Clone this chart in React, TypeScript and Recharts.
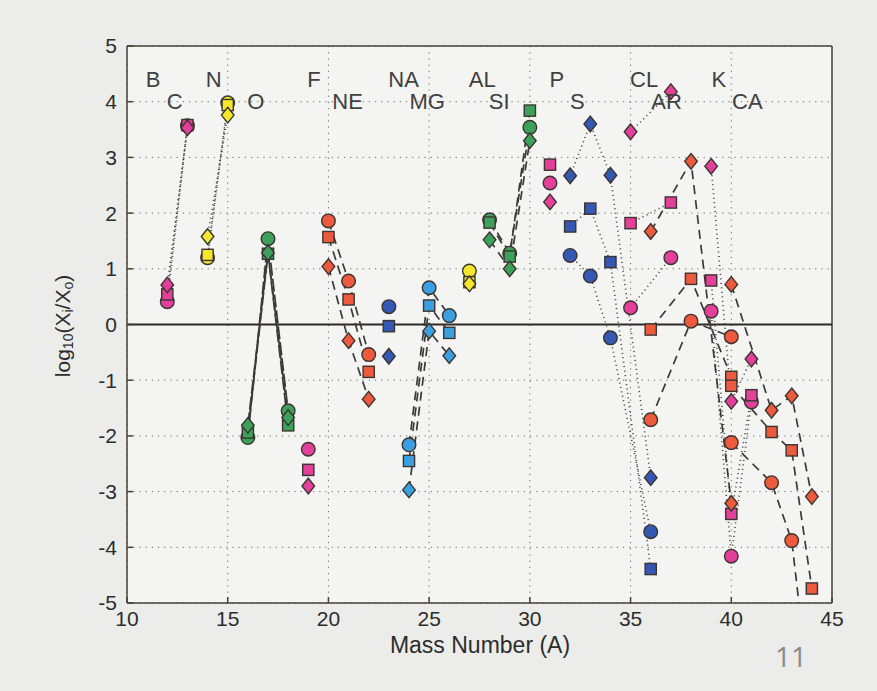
import React from 'react';
import { ScatterChart, Scatter, XAxis, YAxis, CartesianGrid, ReferenceLine } from 'recharts';

const X_TICKS = [10, 15, 20, 25, 30, 35, 40, 45];
const Y_TICKS = [-5, -4, -3, -2, -1, 0, 1, 2, 3, 4, 5];

// each row: [mass number A, circle, square, diamond]  (log10 Xi/Xo)
const C_ROWS = [[12, 0.41, 0.54, 0.71], [13, 3.57, 3.58, 3.53]];
const N_ROWS = [[14, 1.2, 1.25, 1.58], [15, 3.98, 3.94, 3.76]];
const O_ROWS = [[16, -2.03, -1.94, -1.81], [17, 1.54, 1.27, 1.29], [18, -1.55, -1.81, -1.67]];
const F_ROWS = [[19, -2.24, -2.61, -2.9]];
const NE_ROWS = [[20, 1.86, 1.57, 1.04], [21, 0.78, 0.45, -0.29], [22, -0.54, -0.85, -1.34]];
const NA_ROWS = [[23, 0.32, -0.03, -0.57]];
const MG_ROWS = [[24, -2.16, -2.45, -2.97], [25, 0.66, 0.34, -0.12], [26, 0.16, -0.15, -0.56]];
const AL_ROWS = [[27, 0.96, 0.76, 0.73]];
const SI_ROWS = [[28, 1.88, 1.83, 1.52], [29, 1.28, 1.22, 1.0], [30, 3.54, 3.84, 3.3]];
const P_ROWS = [[31, 2.54, 2.87, 2.2]];
const S_ROWS = [[32, 1.24, 1.76, 2.67], [33, 0.87, 2.08, 3.6], [34, -0.24, 1.12, 2.68], [36, -3.72, -4.39, -2.75]];
const CL_ROWS = [[35, 0.3, 1.82, 3.46], [37, 1.2, 2.19, 4.18]];
const AR_ROWS = [[36, -1.71, -0.09, 1.67], [38, 0.06, 0.82, 2.93], [40, -0.22, -0.94, -3.21]];
const K_ROWS = [[39, 0.24, 0.79, 2.84], [40, -4.16, -3.4, -1.38], [41, -1.39, -1.27, -0.62]];
const CA_ROWS = [[40, -2.12, -1.1, 0.72], [42, -2.84, -1.93, -1.54], [43, -3.88, -2.26, -1.28], [44, -7.0, -4.74, -3.09]];

// element labels: [text, A, y]
const ELEMENT_LABELS = [
  ['B', 11.3, 4.4], ['C', 12.37, 4.01], ['N', 14.3, 4.4], ['O', 16.4, 4.01],
  ['F', 19.28, 4.4], ['NE', 20.95, 4.01], ['NA', 23.73, 4.4], ['MG', 24.9, 4.01],
  ['AL', 27.64, 4.4], ['SI', 28.48, 4.01], ['P', 31.34, 4.4], ['S', 32.36, 4.01],
  ['CL', 35.67, 4.4], ['AR', 36.79, 4.01], ['K', 39.38, 4.4], ['CA', 40.8, 4.01],
];

const MAGENTA = '#e43f9a';
const YELLOW = '#f6e72c';
const GREEN = '#3da15a';
const RED = '#ee5a3e';
const DARK_BLUE = '#3458b4';
const LIGHT_BLUE = '#3aa0e2';
const EDGE = '#3a3530';
const INK = '#2c2c2c';
const FONT = "'Liberation Sans', Arial, sans-serif";

const LINE_STYLES: Record<string, any> = {
  dotted: { stroke: '#3a3a3a', strokeWidth: 1.6, strokeDasharray: '1 3.5' },
  dashed: { stroke: '#3a3a3a', strokeWidth: 1.7, strokeDasharray: '9 6' },
  long: { stroke: '#3a3a3a', strokeWidth: 1.7, strokeDasharray: '13 3' },
};

const SERIES = [
  { key: 'C', rows: C_ROWS, color: MAGENTA, line: 'dotted' },
  { key: 'N', rows: N_ROWS, color: YELLOW, line: 'dotted' },
  { key: 'O', rows: O_ROWS, color: GREEN, line: 'long' },
  { key: 'F', rows: F_ROWS, color: MAGENTA, line: null },
  { key: 'NE', rows: NE_ROWS, color: RED, line: 'dashed' },
  { key: 'NA', rows: NA_ROWS, color: DARK_BLUE, line: null },
  { key: 'MG', rows: MG_ROWS, color: LIGHT_BLUE, line: 'dashed' },
  { key: 'AL', rows: AL_ROWS, color: YELLOW, line: null },
  { key: 'SI', rows: SI_ROWS, color: GREEN, line: 'dashed' },
  { key: 'P', rows: P_ROWS, color: MAGENTA, line: null },
  { key: 'S', rows: S_ROWS, color: DARK_BLUE, line: 'dotted' },
  { key: 'CL', rows: CL_ROWS, color: MAGENTA, line: 'dotted' },
  { key: 'AR', rows: AR_ROWS, color: RED, line: 'dashed' },
  { key: 'K', rows: K_ROWS, color: MAGENTA, line: 'dotted' },
  { key: 'CA', rows: CA_ROWS, color: RED, line: 'dashed' },
];

const MARKERS = ['circle', 'square', 'diamond'];

const pointsOf = (rows: number[][], col: number) => rows.map((r) => ({ x: r[0], y: r[col] }));

const makeShape = (marker: string, color: string) => (props: any) => {
  const { cx, cy } = props;
  if (cx == null || cy == null) return <g />;
  if (marker === 'circle') {
    return <circle cx={cx} cy={cy} r={6.8} fill={color} stroke={EDGE} strokeWidth={1.4} />;
  }
  if (marker === 'square') {
    return <rect x={cx - 5.6} y={cy - 5.6} width={11.2} height={11.2} fill={color} stroke={EDGE} strokeWidth={1.4} />;
  }
  return (
    <polygon
      points={`${cx},${cy - 7.8} ${cx + 6.3},${cy} ${cx},${cy + 7.8} ${cx - 6.3},${cy}`}
      fill={color}
      stroke={EDGE}
      strokeWidth={1.4}
    />
  );
};

const labelShape = (props: any) => {
  const { cx, cy, payload } = props;
  return (
    <text x={cx} y={cy} textAnchor="middle" dominantBaseline="central" fontSize={22} fill="#404040" fontFamily={FONT}>
      {payload.label}
    </text>
  );
};

const emptyShape = () => <g />;

export default function App() {
  const labelData = ELEMENT_LABELS.map(([label, x, y]) => ({ label, x, y }));
  const tickStyle = { fontSize: 21, fill: INK, fontFamily: FONT };

  return (
    <div style={{ position: 'absolute', left: 0, top: 0, width: 877, height: 691, background: '#ececea' }}>
      <ScatterChart width={877} height={691} margin={{ top: 46, right: 45, bottom: 58, left: 67 }}>
        <CartesianGrid fill="#f4f4f2" stroke="#6a6a6a" strokeDasharray="1.2 5" />
        <XAxis
          type="number"
          dataKey="x"
          domain={[10, 45]}
          ticks={X_TICKS}
          height={30}
          allowDataOverflow
          tick={tickStyle}
          tickSize={-6}
          tickMargin={14}
          stroke="#4a4034"
          strokeWidth={1.5}
        />
        <YAxis
          type="number"
          dataKey="y"
          domain={[-5, 5]}
          ticks={Y_TICKS}
          width={60}
          allowDataOverflow
          tick={tickStyle}
          tickSize={-6}
          tickMargin={16}
          stroke="#4a4034"
          strokeWidth={1.5}
        />
        <ReferenceLine y={5} stroke="#4a4034" strokeWidth={1.5} />
        <ReferenceLine x={45} stroke="#4a4034" strokeWidth={1.5} />
        <ReferenceLine y={0} stroke="#2e2a25" strokeWidth={2.2} />

        {SERIES.filter((s) => s.line).flatMap((s) =>
          MARKERS.map((m, i) => (
            <Scatter
              key={`line-${s.key}-${m}`}
              data={pointsOf(s.rows, i + 1)}
              line={LINE_STYLES[s.line as string]}
              lineType="joint"
              shape={emptyShape}
              isAnimationActive={false}
            />
          ))
        )}

        {MARKERS.flatMap((m, i) =>
          SERIES.map((s) => (
            <Scatter
              key={`pt-${s.key}-${m}`}
              data={pointsOf(s.rows, i + 1)}
              shape={makeShape(m, s.color)}
              isAnimationActive={false}
            />
          ))
        )}

        <Scatter data={labelData} shape={labelShape} isAnimationActive={false} />
      </ScatterChart>

      <svg width={877} height={691} style={{ position: 'absolute', left: 0, top: 0, pointerEvents: 'none' }}>
        <text
          x={62}
          y={326}
          transform="rotate(-90 62 326)"
          textAnchor="middle"
          dominantBaseline="central"
          fontSize={21}
          fill={INK}
          fontFamily={FONT}
        >
          log<tspan dy={6} fontSize={14}>10</tspan>
          <tspan dy={-6}>(X</tspan>
          <tspan dy={6} fontSize={14}>i</tspan>
          <tspan dy={-6}>/X</tspan>
          <tspan dy={6} fontSize={14}>o</tspan>
          <tspan dy={-6}>)</tspan>
        </text>
        <text x={480} y={645} textAnchor="middle" dominantBaseline="central" fontSize={23} fill={INK} fontFamily={FONT}>
          Mass Number (A)
        </text>
        <text x={791} y={656} textAnchor="middle" dominantBaseline="central" fontSize={28} fill="#8a8a8a"
          fontFamily="'Open Sans', sans-serif">
          11
        </text>
      </svg>
    </div>
  );
}
